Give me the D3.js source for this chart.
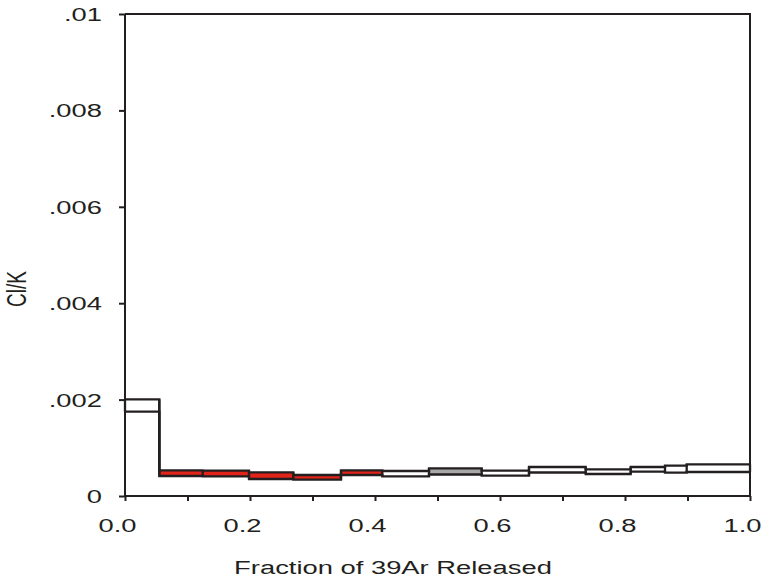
<!DOCTYPE html>
<html>
<head>
<meta charset="utf-8">
<script src="https://cdn.jsdelivr.net/npm/d3@7"></script>
<style>
  html, body { margin: 0; padding: 0; background: #fff; }
  text { font-family: "Liberation Sans", Arial, sans-serif; fill: #231f20; }
</style>
</head>
<body>
<svg id="chart" width="761" height="582"></svg>
<script>
// ---- data ----
const stepEdges = [0, 0.0549, 0.1243, 0.1984, 0.2693, 0.3456, 0.4117, 0.4864, 0.5707, 0.6464, 0.7371, 0.8091, 0.864, 0.8987, 1.0];
const stepHigh  = [0.002006, 0.000533, 0.000525, 0.000492, 0.000436, 0.000533, 0.000519, 0.000575, 0.000525, 0.000602, 0.000554, 0.000602, 0.000629, 0.000658];
const stepLow   = [0.001749, 0.000415, 0.000409, 0.000353, 0.000338, 0.000436, 0.000409, 0.000446, 0.000421, 0.000488, 0.000456, 0.000504, 0.000483, 0.000498];
const stepKind  = ["open", "plateau", "plateau", "plateau", "plateau", "plateau", "open", "grey", "open", "open", "open", "open", "open", "open"];
const xTicks = [0, 0.1, 0.2, 0.3, 0.4, 0.5, 0.6, 0.7, 0.8, 0.9, 1.0];
const xTickLabels = ["0.0", "", "0.2", "", "0.4", "", "0.6", "", "0.8", "", "1.0"];
const yTicks = [0, 0.002, 0.004, 0.006, 0.008, 0.01];
const yTickLabels = ["0", ".002", ".004", ".006", ".008", ".01"];
const xTitle = "Fraction of 39Ar Released";
const yTitle = "Cl/K";

// ---- layout ----
const svg = d3.select("#chart");
const pL = 125, pR = 750, pT = 14, pB = 496;
const ink = "#231f20";
const fills = { open: "#ffffff", plateau: "#e2231a", grey: "#a8a8a8" };
const SX = 1.44, FS = 19;

const x = d3.scaleLinear().domain([0, 1]).range([pL, pR]);
const y = d3.scaleLinear().domain([0, 0.01]).range([pB, pT]);

// steps (fills)
const steps = stepHigh.map((h, i) => ({ x0: stepEdges[i], x1: stepEdges[i + 1], hi: h, lo: stepLow[i], kind: stepKind[i] }));
svg.append("g").selectAll("rect").data(steps).join("rect")
  .attr("x", d => x(d.x0))
  .attr("width", d => x(d.x1) - x(d.x0))
  .attr("y", d => y(d.hi))
  .attr("height", d => y(d.lo) - y(d.hi))
  .attr("fill", d => fills[d.kind]);

// envelopes: upper and lower step lines + vertical connectors
const stepLine = d3.line().curve(d3.curveStepAfter).x(d => x(d[0])).y(d => y(d[1]));
const upper = stepEdges.map((e, i) => [e, stepHigh[Math.min(i, stepHigh.length - 1)]]);
const lower = stepEdges.map((e, i) => [e, stepLow[Math.min(i, stepLow.length - 1)]]);
const env = svg.append("g").attr("fill", "none").attr("stroke", ink).attr("stroke-width", 2.3);
env.append("path").attr("d", stepLine(upper));
env.append("path").attr("d", stepLine(lower));
const connectors = stepEdges.map((e, i) => {
  const a = steps[i - 1], b = steps[i];
  if (!a) return { e, top: b.hi, bot: b.lo };
  if (!b) return { e, top: a.hi, bot: a.lo };
  return { e, top: Math.max(a.hi, b.hi), bot: Math.min(a.lo, b.lo) };
});
env.selectAll("line").data(connectors).join("line")
  .attr("x1", d => x(d.e)).attr("x2", d => x(d.e))
  .attr("y1", d => y(d.top)).attr("y2", d => y(d.bot));

// axes
const xAxis = d3.axisBottom(x).tickValues(xTicks).tickSize(5).tickFormat("");
const gx = svg.append("g").attr("transform", `translate(0,${pB})`).call(xAxis);
gx.select(".domain").attr("stroke", ink).attr("stroke-width", 2).attr("d", `M${pL},0H${pR}`);
gx.selectAll(".tick line").attr("stroke", ink).attr("stroke-width", 2);

const yAxis = d3.axisLeft(y).tickValues(yTicks).tickSize(6).tickFormat("");
const gy = svg.append("g").attr("transform", `translate(${pL},0)`).call(yAxis);
gy.select(".domain").attr("stroke", ink).attr("stroke-width", 2).attr("d", `M0,${pT}V${pB}`);
gy.selectAll(".tick line").attr("stroke", ink).attr("stroke-width", 2);

// frame top & right
svg.append("path")
  .attr("d", `M${pL},${pT}H${pR}V${pB}`)
  .attr("fill", "none").attr("stroke", ink).attr("stroke-width", 2);

// stretched text helper
function stext(tx, ty, str, anchor, extra) {
  const g = svg.append("g").attr("transform", `translate(${tx},${ty}) scale(${SX},1)` + (extra || ""));
  g.append("text").attr("text-anchor", anchor).attr("font-size", FS).text(str);
  return g;
}

// x tick labels
xTicks.forEach((v, i) => {
  if (xTickLabels[i]) stext(x(v) - 7.5, 532, xTickLabels[i], "middle");
});
// y tick labels
yTicks.forEach((v, i) => {
  stext(102, y(v) + 7, yTickLabels[i], "end");
});
// titles
stext(393, 574, xTitle, "middle");
stext(26, 289, yTitle, "middle", " rotate(-90)");
</script>
</body>
</html>
